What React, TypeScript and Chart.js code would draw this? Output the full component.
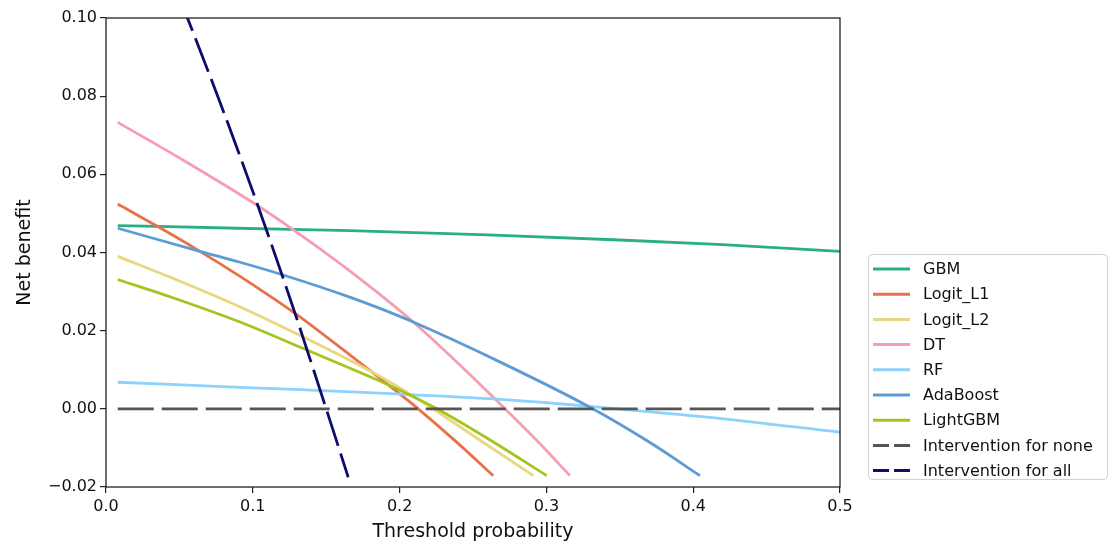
import React, { useEffect, useRef } from 'react';
import { Chart, registerables } from 'chart.js';

Chart.register(...registerables);

// ---- data ----
const xTickValues = [0, 0.1, 0.2, 0.3, 0.4, 0.5];
const yTickValues = [-0.02, 0, 0.02, 0.04, 0.06, 0.08, 0.1];

const seriesNames = ['GBM', 'Logit_L1', 'Logit_L2', 'DT', 'RF', 'AdaBoost', 'LightGBM', 'Intervention for none', 'Intervention for all'];

const gbmX = [0.008, 0.09, 0.166, 0.26, 0.35, 0.42, 0.5];
const gbmY = [0.0469, 0.0462, 0.0456, 0.0445, 0.0432, 0.042, 0.0403];

const logitL1X = [0.008, 0.035, 0.064, 0.0913, 0.115, 0.13, 0.1685, 0.2048, 0.2139, 0.24, 0.2638];
const logitL1Y = [0.0524, 0.0467, 0.0403, 0.0339, 0.028, 0.0241, 0.0131, 0.0024, -0.0004, -0.0089, -0.0171];

const logitL2X = [0.008, 0.05, 0.09, 0.132, 0.165, 0.1866, 0.2048, 0.2207, 0.255, 0.2911];
const logitL2Y = [0.039, 0.0327, 0.0263, 0.0188, 0.0126, 0.0083, 0.0043, 0.0005, -0.0081, -0.0171];

const dtX = [0.008, 0.05, 0.1, 0.125, 0.166, 0.2093, 0.2616, 0.2718, 0.295, 0.316];
const dtY = [0.0733, 0.0642, 0.0528, 0.0465, 0.0353, 0.0222, 0.0038, 0, -0.0087, -0.0171];

const rfX = [0.008, 0.0913, 0.132, 0.1866, 0.2616, 0.309, 0.348, 0.4114, 0.5];
const rfY = [0.0068, 0.0055, 0.0049, 0.004, 0.0026, 0.0013, 0, -0.0022, -0.006];

const adaX = [0.008, 0.064, 0.0913, 0.1185, 0.166, 0.1866, 0.2093, 0.2661, 0.3297, 0.37, 0.4046];
const adaY = [0.0462, 0.0403, 0.0375, 0.0345, 0.0286, 0.0257, 0.0222, 0.0124, 0.0004, -0.0085, -0.0171];

const lgbmX = [0.008, 0.048, 0.0913, 0.132, 0.1866, 0.2093, 0.2245, 0.26, 0.3002];
const lgbmY = [0.0331, 0.0281, 0.0222, 0.0158, 0.0071, 0.0031, 0.0002, -0.0076, -0.0171];

const noneX = [0.008, 0.5];
const noneY = [0, 0];

const allX = [0.05, 0.0777, 0.1, 0.1253, 0.15, 0.165];
const allY = [0.1053, 0.0784, 0.0556, 0.0283, 0, -0.0175];

const seriesX = [gbmX, logitL1X, logitL2X, dtX, rfX, adaX, lgbmX, noneX, allX];
const seriesY = [gbmY, logitL1Y, logitL2Y, dtY, rfY, adaY, lgbmY, noneY, allY];

const seriesColors = ['#2aae86', '#e8714a', '#ead67f', '#f69db1', '#8cd2fa', '#5c9bd6', '#a6c420', '#555555', '#0d0d6e'];
const seriesDashed = [false, false, false, false, false, false, false, true, true];

const FONT = "'DejaVu Sans', sans-serif";
const W = 1113;
const H = 543;
const PLOT = { left: 106, right: 840, top: 18, bottom: 487 };

const framePlugin = {
  id: 'frameAndLegend',
  afterDraw(chart: any) {
    const { ctx, chartArea } = chart;
    ctx.save();
    ctx.strokeStyle = '#222';
    ctx.lineWidth = 1.3;
    ctx.strokeRect(chartArea.left, chartArea.top, chartArea.right - chartArea.left, chartArea.bottom - chartArea.top);

    // legend box
    const bx = 868.5, by = 254.5, bw = 239, bh = 225, r = 4;
    ctx.beginPath();
    ctx.moveTo(bx + r, by);
    ctx.lineTo(bx + bw - r, by);
    ctx.quadraticCurveTo(bx + bw, by, bx + bw, by + r);
    ctx.lineTo(bx + bw, by + bh - r);
    ctx.quadraticCurveTo(bx + bw, by + bh, bx + bw - r, by + bh);
    ctx.lineTo(bx + r, by + bh);
    ctx.quadraticCurveTo(bx, by + bh, bx, by + bh - r);
    ctx.lineTo(bx, by + r);
    ctx.quadraticCurveTo(bx, by, bx + r, by);
    ctx.closePath();
    ctx.fillStyle = 'rgba(255,255,255,0.9)';
    ctx.fill();
    ctx.strokeStyle = '#d0d0d0';
    ctx.lineWidth = 1;
    ctx.stroke();

    ctx.font = `16px ${FONT}`;
    ctx.textBaseline = 'middle';
    ctx.textAlign = 'left';
    const y0 = 269;
    const dy = 25.2;
    seriesNames.forEach((name, i) => {
      const y = y0 + i * dy;
      ctx.beginPath();
      ctx.strokeStyle = seriesColors[i];
      ctx.lineWidth = 3;
      ctx.setLineDash(seriesDashed[i] ? [16, 5] : []);
      ctx.moveTo(873, y);
      ctx.lineTo(910, y);
      ctx.stroke();
      ctx.setLineDash([]);
      ctx.fillStyle = '#111';
      ctx.fillText(name, 923, y + 1);
    });
    ctx.restore();
  },
};

export default function App() {
  const canvasRef = useRef<HTMLCanvasElement | null>(null);

  useEffect(() => {
    const canvas = canvasRef.current;
    if (!canvas) return;
    Chart.defaults.font.family = FONT;

    const datasets = seriesNames.map((name, i) => ({
      label: name,
      data: seriesX[i].map((x, j) => ({ x, y: seriesY[i][j] })),
      borderColor: seriesColors[i],
      backgroundColor: seriesColors[i],
      borderWidth: 2.8,
      borderDash: seriesDashed[i] ? [36, 8] : [],
      pointRadius: 0,
      fill: false,
      cubicInterpolationMode: 'monotone' as const,
      order: seriesNames.length - i,
    }));

    const chart = new Chart(canvas, {
      type: 'line',
      data: { datasets },
      plugins: [framePlugin],
      options: {
        animation: false,
        responsive: false,
        devicePixelRatio: 1,
        layout: { padding: { left: 0, top: PLOT.top, right: W - PLOT.right, bottom: 0 } },
        plugins: { legend: { display: false }, tooltip: { enabled: false } },
        scales: {
          x: {
            type: 'linear',
            min: 0,
            max: 0.5,
            afterBuildTicks: (scale: any) => {
              scale.ticks = xTickValues.map((v) => ({ value: v }));
            },
            afterFit: (scale: any) => {
              scale.height = H - PLOT.bottom;
            },
            ticks: {
              callback: (v: any) => Number(v).toFixed(1),
              color: '#111',
              font: { size: 16 },
              padding: 4,
              maxRotation: 0,
              autoSkip: false,
            },
            grid: { drawOnChartArea: false, drawTicks: true, tickLength: 6, color: '#222', lineWidth: 1.2 },
            border: { display: false },
            title: {
              display: true,
              text: 'Threshold probability',
              color: '#111',
              font: { size: 19 },
              padding: { top: 0, bottom: 0 },
            },
          },
          y: {
            type: 'linear',
            min: -0.02,
            max: 0.1,
            afterBuildTicks: (scale: any) => {
              scale.ticks = yTickValues.map((v) => ({ value: v }));
            },
            afterFit: (scale: any) => {
              scale.width = PLOT.left;
            },
            ticks: {
              callback: (v: any) => Number(v).toFixed(2).replace('-', '\u2212'),
              color: '#111',
              font: { size: 16 },
              padding: 3,
              autoSkip: false,
            },
            grid: { drawOnChartArea: false, drawTicks: true, tickLength: 6, color: '#222', lineWidth: 1.2 },
            border: { display: false },
            title: {
              display: true,
              text: 'Net benefit',
              color: '#111',
              font: { size: 19 },
              padding: { top: 14, bottom: 0 },
            },
          },
        },
      },
    });
    return () => chart.destroy();
  }, []);

  return (
    <div style={{ position: 'fixed', left: 0, top: 0, width: W, height: H, background: '#fff' }}>
      <canvas ref={canvasRef} width={W} height={H} style={{ width: W, height: H, display: 'block' }} />
    </div>
  );
}
